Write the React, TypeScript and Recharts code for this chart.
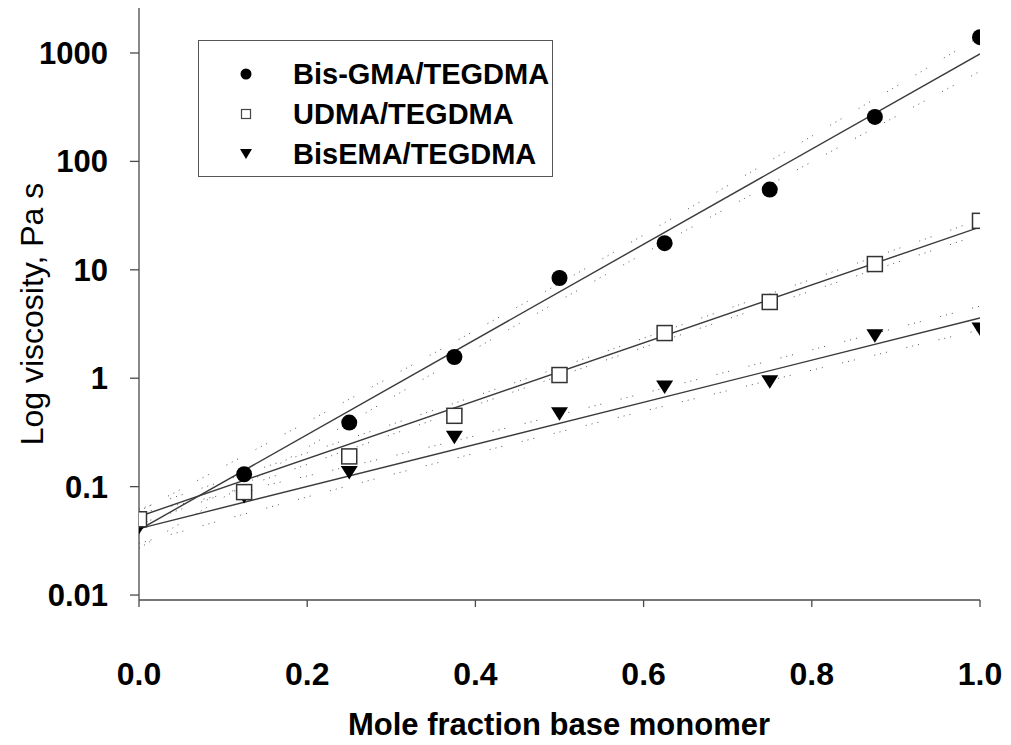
import React from "react";
import {
  ComposedChart,
  Line,
  Scatter,
  XAxis,
  YAxis,
  Label,
} from "recharts";

// mole fraction of base monomer
const fractions = [0, 0.125, 0.25, 0.375, 0.5, 0.625, 0.75, 0.875, 1];

// measured viscosities, Pa s
const bisGma = [0.048, 0.13, 0.39, 1.57, 8.4, 17.6, 55, 257, 1400];
const udma = [0.05, 0.089, 0.19, 0.45, 1.07, 2.61, 5.05, 11.3, 28.3];
const bisEma = [0.042, 0.081, 0.135, 0.285, 0.47, 0.83, 0.93, 2.47, 2.84];

// regression line end points (x = 0 and x = 1)
const fitEnds = [0, 1];
const bisGmaFit = [0.04, 980];
const udmaFit = [0.053, 24.8];
const bisEmaFit = [0.041, 3.59];

// 95% band points
const bandX = [0, 0.25, 0.5, 0.75, 1];
const bisGmaUpper = [0.059, 0.64, 7.5, 101, 1416];
const bisGmaLower = [0.027, 0.39, 5.2, 61, 678];
const udmaUpper = [0.062, 0.277, 1.26, 5.98, 29.1];
const udmaLower = [0.045, 0.22, 1.05, 4.75, 21.1];
const bisEmaUpper = [0.057, 0.154, 0.461, 1.45, 4.62];
const bisEmaLower = [0.03, 0.102, 0.319, 0.955, 2.79];

const yTicks = [0.01, 0.1, 1, 10, 100, 1000];
const xTicks = [0, 0.2, 0.4, 0.6, 0.8, 1.0];

const seriesNames = ["Bis-GMA/TEGDMA", "UDMA/TEGDMA", "BisEMA/TEGDMA"];

const toPoints = (xs: number[], ys: number[]) =>
  xs.map((x, i) => ({ x, y: ys[i] }));

const FONT = "'Liberation Sans', Arial, sans-serif";
const AXIS = "#4a4a4a";
const FIT = "#3a3a3a";
const BAND_DASH = "1 5 1 5 1 20";

const CircleMark = (props: any) => {
  const { cx, cy } = props;
  return <circle cx={cx} cy={cy} r={8} fill="#000" />;
};

const SquareMark = (props: any) => {
  const { cx, cy } = props;
  return (
    <rect x={cx - 7.5} y={cy - 7.5} width={15} height={15} fill="#fff" stroke="#333" strokeWidth={1.5} />
  );
};

const TriangleMark = (props: any) => {
  const { cx, cy } = props;
  return (
    <polygon
      points={`${cx - 8.5},${cy - 6.5} ${cx + 8.5},${cy - 6.5} ${cx},${cy + 7}`}
      fill="#000"
    />
  );
};

// legend box sits over the upper-left of the plot
const LegendBox = () => {
  const icons = [
    <svg width={14} height={14} key="c"><circle cx={7} cy={7} r={5.5} fill="#000" /></svg>,
    <svg width={14} height={14} key="s"><rect x={2.5} y={2.5} width={9} height={9} fill="#fff" stroke="#444" strokeWidth={1.2} /></svg>,
    <svg width={14} height={14} key="t"><polygon points="1,2 13,2 7,12" fill="#000" /></svg>,
  ];
  return (
    <div
      style={{
        position: "absolute",
        left: 198,
        top: 40,
        width: 355,
        height: 137,
        border: "1px solid #555",
        boxSizing: "border-box",
        background: "#fff",
        paddingTop: 13,
      }}
    >
      {seriesNames.map((name, i) => (
        <div key={name} style={{ display: "flex", alignItems: "center", height: 40, whiteSpace: "nowrap" }}>
          <div style={{ width: 94, flexShrink: 0, display: "flex", justifyContent: "center" }}>
            {icons[i]}
          </div>
          <span style={{ fontFamily: FONT, fontWeight: 700, fontSize: 29, color: "#000" }}>
            {name}
          </span>
        </div>
      ))}
    </div>
  );
};

const YTitle = () => (
  <text
    x={43}
    y={314}
    transform="rotate(-90 43 314)"
    textAnchor="middle"
    fontFamily={FONT}
    fontSize={32}
    fill="#000"
  >
    Log viscosity, Pa s
  </text>
);

const XTitle = () => (
  <text x={559} y={735} textAnchor="middle" fontFamily={FONT} fontWeight={700} fontSize={31} fill="#000">
    Mole fraction base monomer
  </text>
);

export default function App() {
  const bands = [
    toPoints(bandX, bisGmaUpper),
    toPoints(bandX, bisGmaLower),
    toPoints(bandX, udmaUpper),
    toPoints(bandX, udmaLower),
    toPoints(bandX, bisEmaUpper),
    toPoints(bandX, bisEmaLower),
  ];
  const fits = [
    toPoints(fitEnds, bisGmaFit),
    toPoints(fitEnds, udmaFit),
    toPoints(fitEnds, bisEmaFit),
  ];

  return (
    <div style={{ position: "absolute", left: 0, top: 0, width: 1011, height: 745, background: "#fff" }}>
      <ComposedChart
        width={1011}
        height={745}
        margin={{ top: 8, right: 31, bottom: 0, left: 0 }}
      >
        <XAxis
          dataKey="x"
          type="number"
          domain={[0, 1]}
          ticks={xTicks}
          tickFormatter={(v: number) => v.toFixed(1)}
          height={145}
          stroke={AXIS}
          strokeWidth={1.3}
          tickSize={7}
          tickMargin={55}
          tick={{ fill: "#000", fontFamily: FONT, fontWeight: 700, fontSize: 32 }}
          allowDataOverflow
        >
          <Label content={<XTitle />} />
        </XAxis>
        <XAxis
          xAxisId="top"
          orientation="top"
          type="number"
          domain={[0, 1]}
          height={0}
          tick={false}
          tickLine={false}
          stroke={AXIS}
          strokeWidth={1.3}
        />
        <YAxis
          dataKey="y"
          scale="log"
          domain={[0.009, 2600]}
          ticks={yTicks}
          allowDataOverflow
          width={139}
          stroke={AXIS}
          strokeWidth={1.3}
          tickSize={9}
          tickMargin={22}
          tick={{ fill: "#000", fontFamily: FONT, fontWeight: 700, fontSize: 31 }}
        >
          <Label content={<YTitle />} />
        </YAxis>
        <YAxis
          yAxisId="right"
          orientation="right"
          width={0}
          tick={false}
          tickLine={false}
          stroke={AXIS}
          strokeWidth={1.3}
        />

        {bands.map((pts, i) => (
          <Line
            key={`band-${i}`}
            data={pts}
            dataKey="y"
            type="monotone"
            stroke="#555"
            strokeWidth={1}
            strokeDasharray={BAND_DASH}
            dot={false}
            activeDot={false}
            isAnimationActive={false}
          />
        ))}
        {fits.map((pts, i) => (
          <Line
            key={`fit-${i}`}
            data={pts}
            dataKey="y"
            type="linear"
            stroke={FIT}
            strokeWidth={1.4}
            dot={false}
            activeDot={false}
            isAnimationActive={false}
          />
        ))}

        <Scatter name={seriesNames[0]} data={toPoints(fractions, bisGma)} shape={<CircleMark />} isAnimationActive={false} />
        <Scatter name={seriesNames[2]} data={toPoints(fractions, bisEma)} shape={<TriangleMark />} isAnimationActive={false} />
        <Scatter name={seriesNames[1]} data={toPoints(fractions, udma)} shape={<SquareMark />} isAnimationActive={false} />
      </ComposedChart>
      <LegendBox />
    </div>
  );
}
